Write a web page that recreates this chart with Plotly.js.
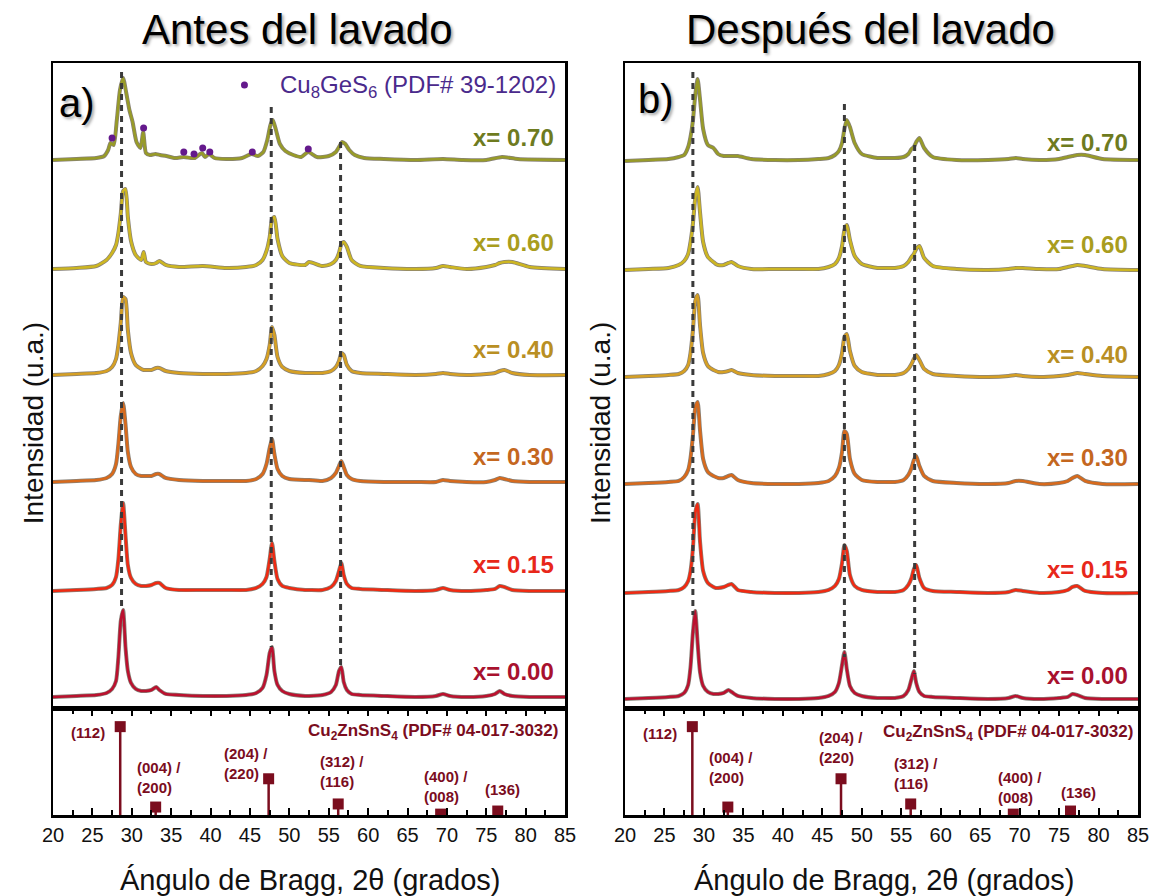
<!DOCTYPE html>
<html>
<head>
<meta charset="utf-8">
<script src="https://cdn.plot.ly/plotly-3.0.1.min.js"></script>
<style>html,body{margin:0;padding:0;background:#fff;}#chart{width:1150px;height:896px;}</style>
</head>
<body>
<div id="chart"></div>
<script>
// ---------- DATA ----------
// common 2-theta grid (degrees)
const twoTheta = [20, 23, 25.5, 26.8, 27.5, 28.0, 28.3, 28.6, 28.9, 29.2,
  29.5, 29.9, 30.5, 31.2, 31.5, 31.8, 32.5, 33.1, 33.5, 34.3,
  36, 39, 42, 44.5, 45.8, 46.6, 47.1, 47.5, 47.8, 48.1,
  48.5, 49.1, 50, 52, 52.5, 54.2, 55.3, 55.9, 56.3, 56.6,
  56.9, 57.3, 57.9, 59, 62, 66, 68.6, 69.5, 70.4, 72.5,
  75, 76.1, 76.7, 77.3, 78.3, 80.5, 85];

const compositions = ['x= 0.00', 'x= 0.15', 'x= 0.30', 'x= 0.40', 'x= 0.60', 'x= 0.70'];

// Antes del lavado (intensity, a.u.)
const antes000 = [0,1,2,4,8,16,40,76,87,50, 26,14,8,6,6,6,7,10,7,3, 2,1,1,2,4,9,22,44,50,26, 12,6,3,1,1,2,5,12,26,30, 15,7,3,2,1,0,1,3,1,0, 1,3,6,3,1,0,0];
const antes015 = [0,1,2,3,6,14,32,66,88,56, 26,13,7,5,5,5,6,8,8,3, 1,1,1,1,3,7,14,32,48,30, 12,5,3,1,1,1,4,10,20,28, 16,7,3,2,1,0,1,3,1,0, 1,2,5,4,1,0,0];
const antes030 = [0,1,2,4,8,18,38,66,79,58, 30,15,8,6,6,6,6,8,8,4, 2,1,1,1,3,8,18,34,43,28, 13,6,3,2,2,1,4,9,16,21, 15,7,3,1,0,0,0,2,1,0, 0,2,4,3,1,0,0];
const antes040 = [0,1,2,4,8,16,30,52,78,76, 45,22,10,6,5,5,5,7,7,4, 2,1,1,2,4,9,16,30,48,40, 18,8,4,2,2,2,4,8,14,22, 20,10,4,2,1,0,1,2,1,0, 1,2,4,5,2,0,0];
const antes060 = [0,1,3,9,16,24,36,55,78,80, 52,28,14,9,17,7,5,6,8,4, 2,3,1,2,4,9,18,32,50,52, 30,13,6,4,7,3,5,9,16,25, 27,22,9,3,1,0,1,3,2,0, 2,4,6,7,7,2,0];
// x = 0.70 (before washing) has extra Cu8GeS6 reflections -> own grid
const antes070_2theta = [20,23,25.5,26.5,27.0,27.3,27.7,28.1,28.5,28.9, 29.3,29.7,30.1,30.6,31.1,31.45,31.8,32.3,33.0,33.6, 34.4,35.5,36.6,37.5,38.0,38.9,39.3,39.8,40.5,42, 44,45.2,46.0,46.7,47.2,47.6,47.9,48.3,48.8,49.5, 50.5,51.5,52.4,53.5,55.0,55.9,56.3,56.7,57.1,57.6, 58.3,59.5,62,66,69.5,72,75,77.0,79,85];
const antes070 = [0,1,2,4,10,17,15,40,70,82, 67,50,38,18,12,28,7,5,6,5, 4,2,3,2,2,7,3,6,2,1, 2,6,4,8,20,35,40,30,16,9, 5,3,8,3,4,8,13,18,16,10, 5,2,1,0,1,0,0,3,1,0];

// Después del lavado
const despues000 = [0,1,2,3,6,14,32,66,88,56, 27,13,7,5,5,5,6,9,7,3, 1,0,0,1,3,7,16,34,47,30, 13,6,3,1,1,1,3,9,20,28, 16,7,3,2,1,0,1,3,1,0, 1,2,5,4,1,0,0];
const despues015 = [0,1,2,3,6,12,22,44,80,89, 52,22,10,6,5,5,6,8,9,3, 1,0,0,1,3,7,14,30,48,42, 18,7,3,1,1,1,3,8,15,24, 28,15,5,2,1,0,1,3,2,0, 1,3,6,7,2,0,0];
const despues030 = [0,1,2,3,7,14,26,48,76,82, 54,25,12,8,7,6,6,8,9,4, 1,0,0,1,3,8,16,32,53,50, 25,10,4,2,2,2,4,9,16,24, 28,18,8,3,1,0,1,3,3,0, 1,3,6,8,3,0,0];
const despues040 = [0,1,2,3,6,12,24,46,76,82, 52,24,11,7,6,5,5,6,7,4, 2,1,1,1,3,6,12,24,40,43, 26,11,5,2,2,2,4,8,13,18, 22,17,8,3,1,0,1,2,1,0, 1,2,3,4,3,1,0];
const despues060 = [0,1,2,5,9,16,28,46,72,83, 58,28,13,8,6,5,5,7,8,4, 1,1,1,1,3,6,12,24,40,45, 30,14,6,2,2,2,4,8,13,16, 21,24,12,4,1,0,1,2,2,1, 1,3,4,5,4,1,0];
const despues070 = [0,1,2,4,6,14,24,40,66,82, 62,32,16,13,10,7,5,5,5,5, 2,1,1,2,3,6,10,18,32,41, 34,18,7,3,3,3,4,7,12,14, 19,23,13,4,1,1,2,3,2,1, 2,4,5,6,6,2,1];

// Cu8GeS6 marked reflections (2theta)
const cu8ges6Peaks = [27.5, 31.5, 36.6, 37.9, 39.0, 39.9, 45.3, 52.4];
const cu8ges6Marks = [571, 581, 557, 555, 561, 557, 557, 560];

// Cu2ZnSnS4 reference PDF# 04-017-3032
const cztsPos = [28.53, 33.03, 47.37, 56.2, 69.2, 76.45];
const cztsInt = [100, 9, 41, 12.5, 1, 4.5];
const cztsHkl = ['(112)', '(004) /<br>(200)', '(204) /<br>(220)', '(312) /<br>(116)', '(400) /<br>(008)', '(136)'];

// reference guide lines (2theta)
const guideA = [28.7, 47.7, 56.5];
const guideB = [28.6, 47.8, 56.7];

// ---------- STYLE ----------
const curveColors = ['#bb112f', '#f02a12', '#d86a1c', '#d6a024', '#cdb622', '#989b28'];
const labelColors = ['#a8112e', '#e8271a', '#c4671f', '#b98f23', '#a99d1e', '#6e7b1f'];
const offsetsA = [12, 118, 227, 334, 440, 549];
const offsetsB = [10, 116, 225, 332, 439, 548];
const labelYA = [37, 144, 252, 359, 466, 572];
const labelYB = [33, 139, 251, 354, 464, 567];
const guideTopA = [637, 602, 567], guideBotA = [99, 62, 42];
const guideTopB = [637, 605, 564], guideBotB = [94, 52, 35];
const maroon = '#7b0d1e';
const FONT = 'Liberation Sans, Arial, sans-serif';

const traces = [];
function addCurve(xs, ys, off, color, xa, ya) {
  const y = ys.map(v => v + off);
  traces.push({x: xs, y: y, xaxis: xa, yaxis: ya, mode: 'lines', hoverinfo: 'skip', showlegend: false,
    line: {color: 'rgba(55,45,30,0.6)', width: 4, shape: 'spline', smoothing: 0.6}});
  traces.push({x: xs, y: y, xaxis: xa, yaxis: ya, mode: 'lines', hoverinfo: 'skip', showlegend: false,
    line: {color: color, width: 2.6, shape: 'spline', smoothing: 0.6}});
}
const antes = [antes000, antes015, antes030, antes040, antes060, antes070];
const despues = [despues000, despues015, despues030, despues040, despues060, despues070];
for (let i = 5; i >= 0; i--) {
  addCurve(i === 5 ? antes070_2theta : twoTheta, antes[i], offsetsA[i], curveColors[i], 'x', 'y');
  addCurve(twoTheta, despues[i], offsetsB[i], curveColors[i], 'x2', 'y2');
}
// guide dashed lines
function addGuides(pos, top, bot, xa, ya) {
  pos.forEach((p, i) => traces.push({x: [p, p], y: [top[i], bot[i]], xaxis: xa, yaxis: ya, mode: 'lines',
    hoverinfo: 'skip', showlegend: false, line: {color: '#3a3a3a', width: 3, dash: '6px,5px'}}));
}
addGuides(guideA, guideTopA, guideBotA, 'x', 'y');
addGuides(guideB, guideTopB, guideBotB, 'x2', 'y2');
// Cu8GeS6 dots
traces.push({x: cu8ges6Peaks, y: cu8ges6Marks, xaxis: 'x', yaxis: 'y', mode: 'markers', hoverinfo: 'skip', showlegend: false,
  marker: {color: '#64198c', size: 7, symbol: 'circle'}});
traces.push({x: [44.3], y: [624], xaxis: 'x', yaxis: 'y', mode: 'markers', hoverinfo: 'skip', showlegend: false,
  marker: {color: '#64198c', size: 7, symbol: 'circle'}});
// sticks
function addSticks(xa, ya) {
  const sx = [], sy = [];
  cztsPos.forEach((p, i) => { sx.push(p, p, null); sy.push(0, cztsInt[i], null); });
  traces.push({x: sx, y: sy, xaxis: xa, yaxis: ya, mode: 'lines', hoverinfo: 'skip', showlegend: false,
    line: {color: maroon, width: 2.5}});
  traces.push({x: cztsPos, y: cztsInt, xaxis: xa, yaxis: ya, mode: 'markers', hoverinfo: 'skip', showlegend: false,
    marker: {color: maroon, size: 11, symbol: 'square'}});
}
addSticks('x3', 'y3');
addSticks('x4', 'y4');

// ---------- ANNOTATIONS ----------
const ann = [];
for (let i = 0; i < 6; i++) {
  ann.push({xref: 'x', yref: 'y', x: 83.9, y: labelYA[i], xanchor: 'right', yanchor: 'middle', showarrow: false,
    text: '<b>' + compositions[i] + '</b>', font: {family: FONT, size: 24, color: labelColors[i]}});
  ann.push({xref: 'x2', yref: 'y2', x: 84.0, y: labelYB[i], xanchor: 'right', yanchor: 'middle', showarrow: false,
    text: '<b>' + compositions[i] + '</b>', font: {family: FONT, size: 24, color: labelColors[i]}});
}
ann.push({xref: 'x', yref: 'y', x: 84.1, y: 623, xanchor: 'right', yanchor: 'middle', showarrow: false,
  text: 'Cu<sub>8</sub>GeS<sub>6</sub> (PDF# 39-1202)', font: {family: FONT, size: 24, color: '#4a2a8c'}});
// hkl labels
const hklA = [[24.5, 92.8, 'center'], [30.35, 41.9, 'left'], [41.5, 58.3, 'left'], [53.6, 48.7, 'left'], [66.8, 31.7, 'left'], [77.1, 29.4, 'center']];
const hklB = [[24.4, 91.7, 'center'], [30.4, 53.2, 'left'], [44.3, 76.4, 'left'], [53.8, 47.5, 'left'], [67.0, 31.1, 'left'], [77.4, 26.0, 'center']];
function addHkl(list, xr, yr, labx, laby) {
  list.forEach((p, i) => ann.push({xref: xr, yref: yr, x: p[0], y: p[1], xanchor: p[2], yanchor: 'middle', align: 'left',
    showarrow: false, text: '<b>' + cztsHkl[i] + '</b>', font: {family: FONT, size: 15, color: maroon}}));
  ann.push({xref: xr, yref: yr, x: labx, y: laby, xanchor: 'right', yanchor: 'middle', showarrow: false,
    text: '<b>Cu<sub>2</sub>ZnSnS<sub>4</sub> (PDF# 04-017-3032)</b>', font: {family: FONT, size: 17, color: maroon}});
}
addHkl(hklA, 'x3', 'y3', 84.3, 94);
addHkl(hklB, 'x4', 'y4', 84.6, 92.8);
// panel letters
ann.push({xref: 'x', yref: 'y', x: 23.1, y: 606, xanchor: 'center', yanchor: 'middle', showarrow: false, text: 'a)',
  font: {family: FONT, size: 40, color: '#000', shadow: '2px 2px 3px rgba(0,0,0,0.35)'}});
ann.push({xref: 'x2', yref: 'y2', x: 23.9, y: 610, xanchor: 'center', yanchor: 'middle', showarrow: false, text: 'b)',
  font: {family: FONT, size: 40, color: '#000', shadow: '2px 2px 3px rgba(0,0,0,0.35)'}});
// titles
ann.push({xref: 'paper', yref: 'paper', x: 0.2258, y: 1.044, xanchor: 'center', yanchor: 'middle', showarrow: false,
  text: 'Antes del lavado', font: {family: FONT, size: 42, color: '#000', shadow: '2px 2px 3px rgba(0,0,0,0.35)'}});
ann.push({xref: 'paper', yref: 'paper', x: 0.753, y: 1.044, xanchor: 'center', yanchor: 'middle', showarrow: false,
  text: 'Después del lavado', font: {family: FONT, size: 42, color: '#000', shadow: '2px 2px 3px rgba(0,0,0,0.35)'}});
// axis titles
ann.push({xref: 'paper', yref: 'paper', x: -0.0184, y: 0.521, xanchor: 'center', yanchor: 'middle', textangle: -90, showarrow: false,
  text: 'Intensidad (u.a.)', font: {family: FONT, size: 28, color: '#111'}});
ann.push({xref: 'paper', yref: 'paper', x: 0.504, y: 0.521, xanchor: 'center', yanchor: 'middle', textangle: -90, showarrow: false,
  text: 'Intensidad (u.a.)', font: {family: FONT, size: 28, color: '#111'}});
ann.push({xref: 'paper', yref: 'paper', x: 0.2369, y: -0.087, xanchor: 'center', yanchor: 'middle', showarrow: false,
  text: 'Ángulo de Bragg, 2θ (grados)', font: {family: FONT, size: 29, color: '#111'}});
ann.push({xref: 'paper', yref: 'paper', x: 0.766, y: -0.087, xanchor: 'center', yanchor: 'middle', showarrow: false,
  text: 'Ángulo de Bragg, 2θ (grados)', font: {family: FONT, size: 29, color: '#111'}});

// ---------- LAYOUT ----------
const dA = [0, 0.472], dB = [0.5272, 1];
function mainX(dom, anchor) {
  return {domain: dom, anchor: anchor, range: [20, 85], showline: true, mirror: true, linewidth: 2.5, linecolor: '#000',
    ticks: '', showticklabels: false, showgrid: false, zeroline: false, fixedrange: true};
}
function mainY(anchor) {
  return {domain: [0.141, 1], anchor: anchor, range: [0, 646], showline: true, mirror: true, linewidth: 2.5, linecolor: '#000',
    ticks: '', showticklabels: false, showgrid: false, zeroline: false, fixedrange: true};
}
function stickX(dom, anchor) {
  return {domain: dom, anchor: anchor, range: [20, 85], showline: true, mirror: 'ticks', linewidth: 2.5, linecolor: '#000',
    ticks: 'inside', tick0: 20, dtick: 5, ticklen: 7, tickwidth: 2, tickcolor: '#000',
    minor: {dtick: 2.5, ticks: 'inside', ticklen: 5, tickwidth: 2, tickcolor: '#000', showgrid: false},
    tickfont: {family: FONT, size: 20, color: '#111'}, showgrid: false, zeroline: false, fixedrange: true};
}
function stickY(anchor) {
  return {domain: [0, 0.141], anchor: anchor, range: [0, 120], showline: true, mirror: true, linewidth: 2.5, linecolor: '#000',
    ticks: '', showticklabels: false, showgrid: false, zeroline: false, fixedrange: true};
}
const layout = {
  width: 1150, height: 896,
  margin: {l: 53, r: 12, t: 63, b: 81},
  paper_bgcolor: '#fff', plot_bgcolor: '#fff', showlegend: false,
  font: {family: FONT, color: '#111'},
  xaxis: mainX(dA, 'y'), yaxis: mainY('x'),
  xaxis2: mainX(dB, 'y2'), yaxis2: mainY('x2'),
  xaxis3: stickX(dA, 'y3'), yaxis3: stickY('x3'),
  xaxis4: stickX(dB, 'y4'), yaxis4: stickY('x4'),
  annotations: ann
};
Plotly.newPlot('chart', traces, layout, {displayModeBar: false, staticPlot: true});
</script>
</body>
</html>
